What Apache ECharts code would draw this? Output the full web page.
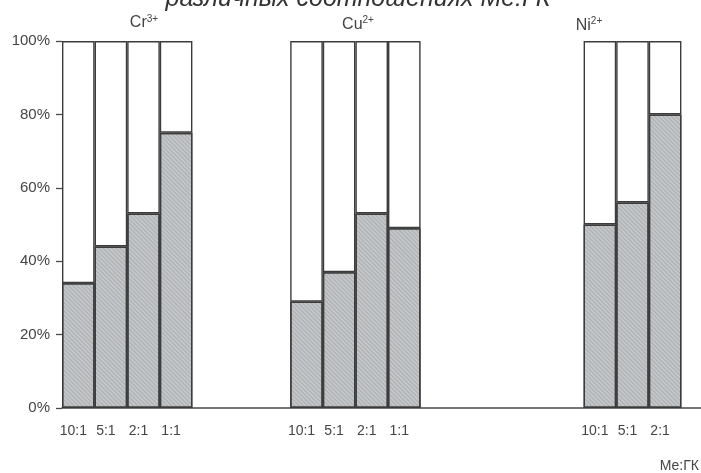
<!DOCTYPE html>
<html><head><meta charset="utf-8">
<script src="https://cdn.jsdelivr.net/npm/echarts@6/dist/echarts.min.js"></script>
<style>html,body{margin:0;padding:0;background:#fff}#c{width:701px;height:473px}</style>
</head><body><div id="c"></div>
<script>
// ---- data ----
const crRatios = ['10:1', '5:1', '2:1', '1:1'];
const cuRatios = ['10:1', '5:1', '2:1', '1:1'];
const niRatios = ['10:1', '5:1', '2:1'];
const crBound = [34, 44, 53, 75];   // % bound (grey part)
const cuBound = [29, 37, 53, 49];
const niBound = [50, 56, 80];
const groupNames = ['Cr', 'Cu', 'Ni'];
const groupCharges = ['3+', '2+', '2+'];
const yTicks = [0, 20, 40, 60, 80, 100];
const titleText = 'различных соотношениях Ме:ГК';
const axisName = 'Ме:ГК';

// ---- build layout (blank slots between groups) ----
function blanks(n) { return new Array(n).fill(''); }
function nulls(n) { return new Array(n).fill('-'); }
const barCats = [].concat(crRatios, blanks(3), cuRatios, blanks(5), niRatios, blanks(1));
const grey = [].concat(crBound, nulls(3), cuBound, nulls(5), niBound, nulls(1));
const white = grey.map(v => v === '-' ? '-' : 100 - v);

const FONT = '"Liberation Sans", Arial, sans-serif';
const border = { borderColor: '#3c3c3c', borderWidth: 1.4 };

const chart = echarts.init(document.getElementById('c'));
chart.setOption({
  animation: false,
  backgroundColor: '#ffffff',
  title: [{
    text: titleText, left: 353, textAlign: 'center', top: -18,
    textStyle: { fontFamily: FONT, fontStyle: 'italic', fontWeight: 'normal', fontSize: 25, color: '#333' }
  }, {
    text: axisName, right: -3, bottom: -5,
    textStyle: { fontFamily: FONT, fontWeight: 'normal', fontSize: 14, color: '#444' }
  }],
  graphic: groupNames.map((g, i) => ({
    type: 'text',
    x: [144, 358, 589][i], y: [14, 15.5, 16.5][i],
    style: {
      text: g + '{s|' + groupCharges[i] + '}',
      font: '16px ' + FONT, fill: '#444', textAlign: 'center',
      rich: { s: { fontSize: 10, fontFamily: FONT, fill: '#444', verticalAlign: 'top', padding: [0, 0, 8, 0] } }
    }
  })),
  grid: [
    { left: 62, top: 41, width: 652, height: 367, outerBoundsMode: 'none', containLabel: false }
  ],
  xAxis: [{
    type: 'category', data: barCats,
    axisLine: { lineStyle: { color: '#4a4a4a', width: 1.5 } },
    axisTick: { show: false },
    axisLabel: { interval: 0, margin: 16, padding: [0, 10, 0, 0], fontFamily: FONT, fontSize: 14, color: '#444' }
  }],
  yAxis: [{
    type: 'value', min: yTicks[0], max: yTicks[yTicks.length - 1], interval: yTicks[1] - yTicks[0],
    axisLine: { show: false },
    axisTick: { show: true, length: 6, lineStyle: { color: '#4a4a4a', width: 1.3 } },
    splitLine: { show: false },
    axisLabel: { formatter: '{value}%', margin: 12, fontFamily: FONT, fontSize: 15, color: '#444' }
  }],
  series: [{
    type: 'bar', stack: 'a', data: grey,
    barWidth: '100%', barCategoryGap: '0%',
    itemStyle: Object.assign({
      color: '#c4c7ca',
      decal: { symbol: 'rect', symbolSize: 1, dashArrayX: [[1, 0]], dashArrayY: [1, 2], rotation: Math.PI / 4, color: 'rgba(110,110,110,0.3)' }
    }, border)
  }, {
    type: 'bar', stack: 'a', data: white,
    barWidth: '100%', barCategoryGap: '0%',
    itemStyle: Object.assign({ color: '#ffffff' }, border)
  }]
});
</script></body></html>
